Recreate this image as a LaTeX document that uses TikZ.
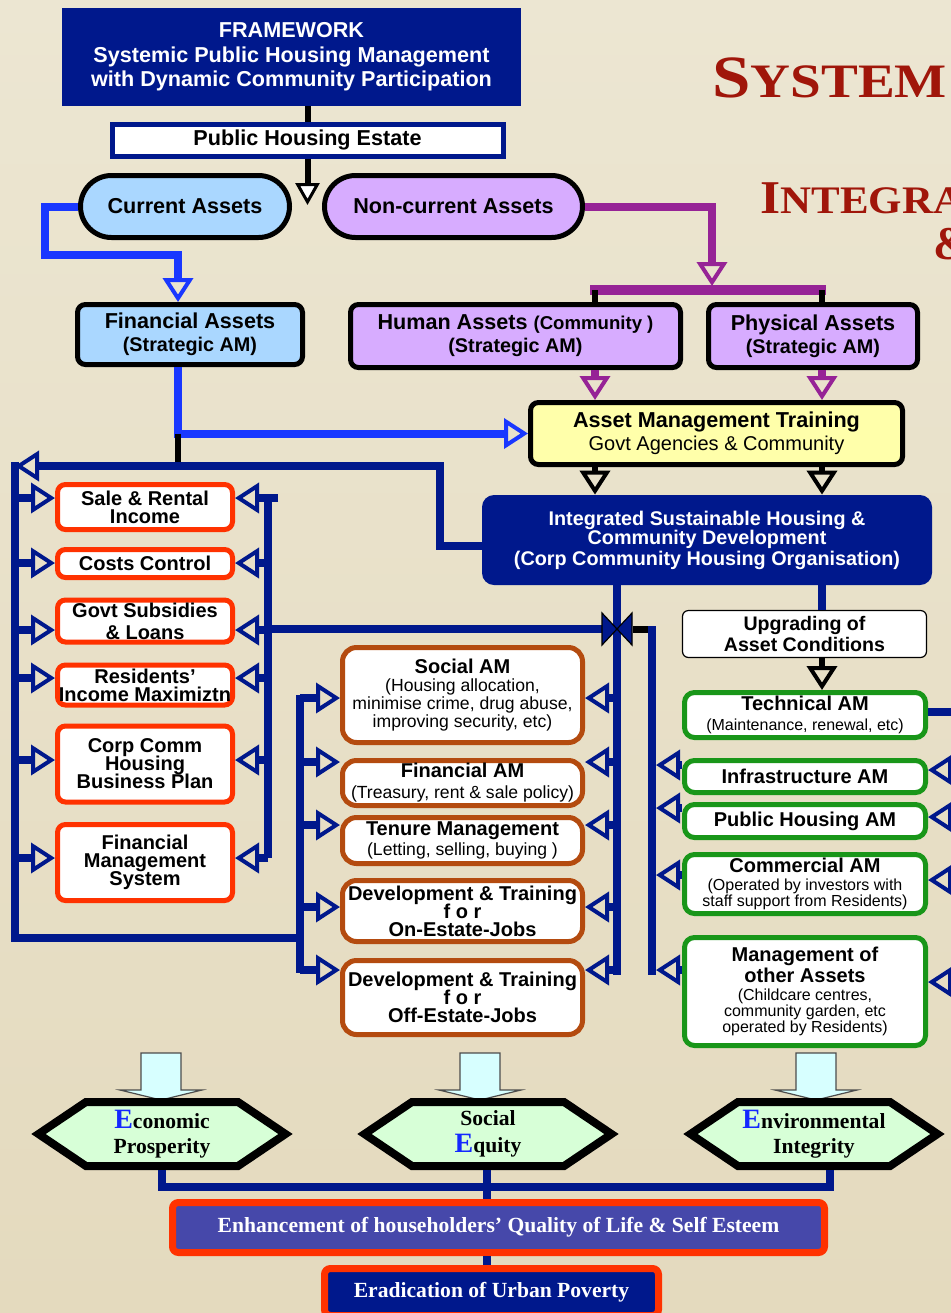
\documentclass[tikz,border=0pt]{standalone}
\usepackage{graphicx}
\usepackage{fontspec}
\setmainfont{Liberation Sans}
\newfontfamily\tnr{Liberation Serif}
\usetikzlibrary{arrows.meta,shapes.symbols}

\definecolor{navy}{RGB}{0,24,140}
\definecolor{brightblue}{RGB}{25,55,255}
\definecolor{plum}{RGB}{150,35,150}
\definecolor{lilac}{RGB}{215,172,255}
\definecolor{skyfill}{RGB}{170,215,255}
\definecolor{lemon}{RGB}{255,255,170}
\definecolor{leaf}{RGB}{25,150,25}
\definecolor{rust}{RGB}{180,75,15}
\definecolor{flame}{RGB}{255,50,0}
\definecolor{mint}{RGB}{215,255,215}
\definecolor{icecyan}{RGB}{215,255,255}
\definecolor{slate}{RGB}{70,72,170}
\definecolor{brick}{RGB}{160,22,10}
\definecolor{eblue}{RGB}{20,40,255}
\definecolor{bgtop}{RGB}{236,230,210}
\definecolor{bgbot}{RGB}{228,218,190}

\newcommand{\smt}{\mdseries\fontsize{8.8}{9}\selectfont}
\newcommand{\gsub}{\mdseries\fontsize{8}{8}\selectfont}
\newcommand{\stam}{\fontsize{9.9}{11}\selectfont}
\newcommand{\bigE}{\color{eblue}\fontsize{14}{12}\selectfont}
\newcommand{\tightlines}{\lineskiplimit=-6pt\relax}

\tikzset{
  txt/.style={align=center, inner sep=0pt, font=\bfseries\fontsize{10}{9}\selectfont\tightlines},
  bigtxt/.style={txt, font=\bfseries\fontsize{10.8}{11.5}\selectfont},
  pill/.style={bigtxt, draw=black, line width=2.5pt, rounded corners=15.5pt, minimum height=31pt},
  abox/.style={bigtxt, draw=black, line width=2.5pt, rounded corners=4pt},
  redbox/.style={txt, draw=flame, line width=2.5pt, fill=white, rounded corners=4pt, minimum width=87.5pt},
  rustbox/.style={txt, draw=rust, line width=2.5pt, fill=white, rounded corners=7pt, minimum width=120pt},
  leafbox/.style={txt, font=\bfseries\fontsize{10}{8}\selectfont, draw=leaf, line width=2.5pt, fill=white, rounded corners=5pt, minimum width=120.5pt},
  hexa/.style={signal, signal to=west and east, signal pointer angle=68, draw=black, line width=4pt, fill=mint, minimum width=123.5pt, minimum height=32pt, align=center, inner sep=0pt, font=\tnr\bfseries\fontsize{10.8}{12.5}\selectfont},
  goal/.style={draw=flame, line width=3.5pt, rounded corners=3pt, text=white, inner sep=0pt, font=\tnr\bfseries\fontsize{10.8}{12}\selectfont},
  bus/.style={draw=navy, line width=4pt},
  blueln/.style={draw=brightblue, line width=4pt},
  plumln/.style={draw=plum, line width=4pt},
  blk/.style={draw=black, line width=3pt},
  tipo/.style={-{Triangle[open, length=12pt, width=15pt, line width=2pt]}},
  tipw/.style={-{Triangle[fill=white, length=11pt, width=12pt, line width=1.5pt]}},
  ttl/.style={text=brick, inner sep=0pt, anchor=base west, font=\tnr\bfseries},
}

\begin{document}
\begin{tikzpicture}[x=0.5pt,y=-0.5pt]
  \useasboundingbox (0,0) rectangle (951,1313);
  \clip (0,0) rectangle (951,1313);
  \shade[top color=bgtop, bottom color=bgbot] (0,0) rectangle (951,1313);

  % title
  \node[ttl] (tsys) at (712,97) {\scalebox{1.15}[1]{\fontsize{30}{30}\selectfont S\fontsize{24}{24}\selectfont YSTEM}} ;
  \node[ttl] (tint) at (760,213) {\scalebox{1.1}[1]{\fontsize{23.5}{24}\selectfont I\fontsize{19.5}{20}\selectfont NTEGRA}} ;
  \node[ttl] (tand) at (933,259) {\fontsize{23.5}{24}\selectfont\&} ;

  % top boxes
  \node[bigtxt, fill=navy, text=white, minimum width=229.5pt, minimum height=49pt, font=\bfseries\fontsize{10.8}{12.3}\selectfont] (fw) at (291.5,57) {FRAMEWORK\\Systemic Public Housing Management\\with Dynamic Community Participation} ;
  \node[bigtxt, draw=navy, line width=2.5pt, fill=white, minimum width=195.5pt, minimum height=16pt] (phe) at (307.5,140) {Public Housing Estate} ;
  \node[pill, fill=skyfill, minimum width=104.5pt] (cur) at (185,206.5) {Current Assets} ;
  \node[pill, fill=lilac, minimum width=129pt] (ncur) at (453.5,206.5) {Non-current Assets} ;
  \node[abox, fill=skyfill, minimum width=112.5pt, minimum height=30pt] (fin) at (190,334.5) {Financial Assets\\{\stam(Strategic AM)}} ;
  \node[abox, fill=lilac, minimum width=165pt, minimum height=31.5pt] (hum) at (515.5,336) {Human Assets {\fontsize{9.3}{11}\selectfont(Community )}\\{\stam(Strategic AM)}} ;
  \node[abox, fill=lilac, minimum width=104.5pt, minimum height=31.5pt] (phy) at (813,336) {Physical Assets\\{\stam(Strategic AM)}} ;
  \node[abox, fill=lemon, minimum width=186pt, minimum height=31pt] (amt) at (716.5,433.5) {Asset Management Training\\{\mdseries\fontsize{10}{11}\selectfont Govt Agencies \& Community}} ;
  \node[txt, fill=navy, text=white, rounded corners=6pt, minimum width=225pt, minimum height=45pt, font=\bfseries\fontsize{9.9}{9.5}\selectfont] (ish) at (707,540) {Integrated Sustainable Housing \&\\Community Development\\[1pt](Corp Community Housing Organisation)} ;
  \node[txt, draw=black, line width=0.6pt, fill=white, rounded corners=3pt, minimum width=122pt, minimum height=23.5pt, font=\bfseries\fontsize{9.8}{9}\selectfont] (upg) at (804.5,634) {Upgrading of\\Asset Conditions} ;

  % financial side
  \begin{scope}[every node/.style={redbox}]
    \node[minimum height=22.5pt] (sale) at (145,507) {Sale \& Rental\\Income} ;
    \node[minimum height=14pt] (cost) at (145,563.5) {Costs Control} ;
    \node[minimum height=21pt] (subs) at (145,621) {Govt Subsidies\\[2pt]\& Loans} ;
    \node[minimum height=20pt] (resi) at (145,685) {Residents’\\Income Maximiztn} ;
    \node[minimum height=38pt] (plan) at (145,764) {Corp Comm\\Housing\\Business Plan} ;
    \node[minimum height=38pt] (fms) at (145,862.5) {Financial\\Management\\System} ;
  \end{scope}

  % social side
  \begin{scope}[every node/.style={rustbox}]
    \node[minimum height=47.5pt] (soc) at (462.5,695) {Social AM\\{\smt(Housing allocation,}\\{\smt minimise crime, drug abuse,}\\{\smt improving security, etc)}} ;
    \node[minimum height=22.5pt] (fam) at (462.5,783) {Financial AM\\[1.5pt]{\smt(Treasury, rent \& sale policy)}} ;
    \node[minimum height=23pt] (ten) at (462.5,840.5) {Tenure Management\\[1pt]{\smt(Letting, selling, buying )}} ;
    \node[minimum height=30.5pt] (don) at (462.5,911) {Development \& Training\\f o r\\On-Estate-Jobs} ;
    \node[minimum height=37pt] (doff) at (462.5,997.5) {Development \& Training\\f o r\\Off-Estate-Jobs} ;
  \end{scope}

  % technical side
  \begin{scope}[every node/.style={leafbox}]
    \node[minimum height=22.5pt] (tech) at (805,715) {Technical AM\\[2pt]{\gsub(Maintenance, renewal, etc)}} ;
    \node[minimum height=16pt] (infra) at (805,776.5) {Infrastructure AM} ;
    \node[minimum height=16.5pt] (pham) at (805,821) {Public Housing AM} ;
    \node[minimum height=29.5pt] (comm) at (805,884) {Commercial AM\\[1pt]{\gsub(Operated by investors with}\\{\gsub staff support from Residents)}} ;
    \node[minimum height=54pt] (oth) at (805,991.5) {Management of\\other Assets\\[1pt]{\gsub(Childcare centres,}\\{\gsub community garden, etc}\\{\gsub operated by Residents)}} ;
  \end{scope}

  % outcomes
  \foreach \cx in {161,480,816}
    \filldraw[fill=icecyan, draw=black!70, line width=0.6pt] (\cx-20,1053) -- (\cx+20,1053) -- (\cx+20,1090) -- (\cx+41,1090) -- (\cx,1100) -- (\cx-41,1090) -- (\cx-20,1090) -- cycle ;
  \begin{scope}[every node/.style={hexa}]
    \node (eco) at (162,1134) {{\bigE E}conomic\\Prosperity} ;
    \node (equ) at (488,1134) {Social\\[1pt]{\bigE E}quity} ;
    \node (env) at (814,1134) {{\bigE E}nvironmental\\Integrity} ;
  \end{scope}
  \node[goal, fill=slate, minimum width=326pt, minimum height=25pt] (enh) at (498.5,1227.5) {Enhancement of householders’ Quality of Life \& Self Esteem} ;
  \node[goal, fill=navy, minimum width=167pt, minimum height=23.5pt] (era) at (491.5,1292) {Eradication of Urban Poverty} ;

  % junctions
  \coordinate (lbt) at (15,466) ;
  \coordinate (lbb) at (15,938) ;
  \coordinate (tlc) at (440,466) ;
  \coordinate (rbt) at (268,498) ;
  \coordinate (rbb) at (268,858) ;
  \coordinate (mbt) at (300,695) ;
  \coordinate (mbb) at (300,973) ;
  \coordinate (crs) at (617,629) ;
  \coordinate (cbb) at (617,975) ;
  \coordinate (gbt) at (652,629) ;
  \coordinate (gbe) at (656,629) ;
  \coordinate (gbb) at (652,975) ;
  \coordinate (offr) at (975,712) ;
  \coordinate (colL) at (595,0) ;
  \coordinate (colR) at (822,0) ;
  \coordinate (split) at (307.5,205) ;
  \coordinate (cbend) at (45,255) ;
  \coordinate (pdrop) at (712,286) ;
  \coordinate (pbl) at (590,290) ;
  \coordinate (pbr) at (826,290) ;
  \coordinate (fnl) at ([xshift=-6pt]fin.north) ;
  \coordinate (fsl) at ([xshift=-6pt]fin.south) ;
  \coordinate (jn) at (487,1187) ;

  % top links
  \draw[blk] (phe.north |- fw.south) -- (phe.north) ;
  \draw[blk, tipw] (phe.south) -- (split) ;
  \draw[blueln, tipo] (cur.west) -| (cbend) -| (fnl) ;
  \draw[plumln, tipo] (ncur.east) -| (pdrop) ;
  \draw[plumln, line width=5pt] (pbl) -- (pbr) ;
  \draw[blk] (colL |- pbl) -- (colL |- hum.north) ;
  \draw[blk] (colR |- pbl) -- (colR |- phy.north) ;
  \draw[plumln, tipo] (colL |- hum.south) -- (colL |- amt.north) ;
  \draw[plumln, tipo] (colR |- phy.south) -- (colR |- amt.north) ;
  \draw[blueln, tipo] (fsl) |- (amt.west) ;
  \draw[blk] (fsl |- amt.west) -- (fsl |- lbt) ;
  \draw[blk, tipo] (colL |- amt.south) -- (colL |- ish.north) ;
  \draw[blk, tipo] (colR |- amt.south) -- (colR |- ish.north) ;

  % buses
  \draw[bus] ([yshift=2pt]lbt) -- (lbb) -- (lbb -| mbt) ;
  \draw[bus, tipo] ([yshift=-3pt]ish.west) -| (tlc) -- (lbt) ;
  \draw[bus] (rbt) -- (rbb) ;
  \draw[bus] (rbt |- crs) -- (crs) ;
  \draw[bus] (mbt) -- (mbb) ;
  \draw[bus] (crs |- ish.south) -- (cbb) ;
  \draw[blk, line width=3.5pt] ([xshift=8pt]crs) -- (gbt) ;
  \draw[bus] ([yshift=1.5pt]gbt) -- (gbb) ;
  \filldraw[fill=navy, draw=black, line width=0.6pt] (crs) -- ++(-15,-16) -- ++(0,32) -- cycle (crs) -- ++(15,-16) -- ++(0,32) -- cycle ;

  % arrows to the boxes
  \foreach \b/\y in {sale/498, cost/563, subs/630, resi/678, plan/760, fms/858}
    \draw[bus, tipo] (lbt |- 0,\y) -- (\b.west |- 0,\y) ;
  \foreach \b/\y in {cost/563, subs/630, resi/678, plan/760, fms/858}
    \draw[bus, tipo] (rbt |- 0,\y) -- (\b.east |- 0,\y) ;
  \draw[bus, tipo] ([xshift=5pt]rbt) -- (sale.east |- rbt) ;
  \foreach \b/\y in {soc/698, fam/762, ten/825, don/907, doff/970} {
    \draw[bus, tipo] (mbt |- 0,\y) -- (\b.west |- 0,\y) ;
    \draw[bus, tipo] (crs |- 0,\y) -- (\b.east |- 0,\y) ;
  }
  \foreach \b/\y in {infra/765, pham/808, comm/875, oth/970}
    \draw[bus, tipo] (\b.west |- 0,\y) -- (gbe |- 0,\y) ;
  \foreach \b/\y in {infra/770, pham/817, comm/880, oth/982}
    \draw[bus, tipo] (offr |- 0,\y) -- (\b.east |- 0,\y) ;
  \draw[bus] (tech.east |- offr) -- (offr) ;
  \draw[bus] (colR |- ish.south) -- (colR |- upg.north) ;
  \draw[blk, tipo] (colR |- upg.south) -- (colR |- tech.north) ;

  % outcome links
  \draw[bus] (eco.south) |- (jn) -| ([xshift=8pt]env.south) ;
  \draw[bus] (jn |- equ.south) -- (jn |- enh.north) ;
  \draw[bus] (jn |- enh.south) -- (jn |- era.north) ;
\end{tikzpicture}
\end{document}
